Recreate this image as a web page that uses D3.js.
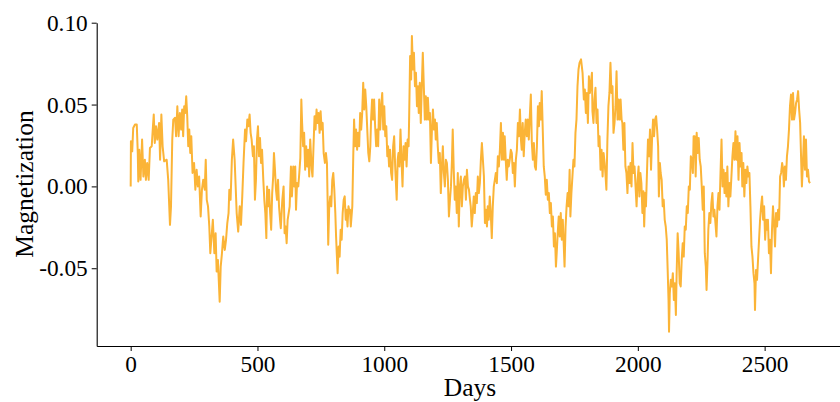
<!DOCTYPE html>
<html>
<head>
<meta charset="utf-8">
<script src="https://cdn.jsdelivr.net/npm/d3@7/dist/d3.min.js"></script>
<style>
  html, body { margin: 0; padding: 0; background: #fff; }
  svg { display: block; }
</style>
</head>
<body>
<svg id="chart" width="840" height="402"></svg>
<script>
// ---- data (day, magnetization) ----
const seg1 = [[0,0],[1,0.0276],[6,0.0214],[10,0.0357],[17,0.0378],[24,0.0378],[28,0.0204],[30,0.003],[34,0.0224],[39,0.004],[45,0.0286],[50,0.006],[56,0.0163],[60,0.004],[65,0.0143],[71,0.004],[76,0.0235],[83,0.0245],[87,0.0347],[91,0.0439],[95,0.0265],[100,0.0367],[105,0.0286],[112,0.0388],[116,0.0163],[121,0.0439],[126,0.0245],[132,0.0153],[142,0.0163],[148,0.004],[155,-0.0235],[159,-0.0122],[164,0.0286],[168,0.0408],[175,0.0419],[179,0.0306],[184,0.049],[189,0.0306],[194,0.0449],[199,0.0347],[203,0.047],[207,0.0306],[211,0.049],[215,0.0449],[219,0.0551],[223,0.0429],[227,0.0245],[231,0.0347],[235,0.0204],[239,0.0306],[244,0.0082],[250,0.0143],[255,-0.002],[260,0.0102],[265,0],[270,0.006],[276,-0.0184],[281,-0.002],[286,0.004],[292,-0.002],[296,0.0163],[300,-0.0082],[305,-0.0122],[310,-0.0245],[314,-0.0408],[319,-0.0306],[324,-0.0204],[330,-0.0408],[335,-0.0286],[339,-0.052],[344,-0.0449],[351,-0.0704],[355,-0.049],[360,-0.0408],[365,-0.0306],[371,-0.0388],[376,-0.0326],[381,-0.0224],[386,-0.0163],[389,-0.002],[394,-0.0082],[399,0.0163],[404,0.0286],[410,0.0163]];
const seg2 = [[418,-0.0163],[424,-0.0276],[430,-0.0122],[435,-0.0235],[440,-0.0061],[445,0.0143],[451,0.0347],[455,0.0276],[460,0.0408],[464,0.0367],[469,0.0439],[473,0.0327],[477,0.0286],[482,0.0184],[486,0.0245],[490,-0.0082],[494,0.004],[498,0.0286],[502,0.0367],[506,0.0184],[510,0.0296],[514,0.0143],[518,0.0224],[523,0.004],[527,-0.0082],[531,-0.0163],[535,-0.0316],[538,0],[542,-0.0122],[546,-0.002],[550,-0.0163],[554,-0.0265],[558,-0.0041],[562,0.006],[565,0.0204],[569,0.0102],[573,-0.002],[577,-0.0082],[581,0.004],[585,-0.0122],[589,-0.0204],[592,-0.0255],[598,-0.0082],[603,0],[607,-0.0286],[611,-0.0245],[615,-0.0347],[619,-0.0204],[623,-0.0163],[627,-0.0122],[632,0.0122],[636,-0.0061],[641,0.0122],[645,0],[649,0.0122],[652,-0.0143],[656,0.002],[661,0],[665,0.0082],[669,0.0173],[673,0.0531],[676,0.0388],[680,0.0245],[684,0.0327],[688,0.0102],[692,0.0245],[696,0.0122],[700,0.0224],[704,0.006],[708,0.0286],[714,0.0102],[717,0.006],[721,0.0245],[725,0.0429],[729,0.0347],[733,0.047],[737,0.0388],[741,0.0449],[745,0.0327],[749,0.0459],[753,0.0347],[757,0.0388],[761,0.0204],[766,0.0143],[770,0.0204],[774,0.0143],[777,-0.0122],[779,-0.0357],[783,-0.0122],[787,-0.0061],[791,-0.0122],[795,0.004],[799,0.0082],[803,-0.002],[807,-0.0163],[810,-0.0306],[816,-0.053],[820,-0.0367],[824,-0.0429],[828,-0.0265],[832,-0.0326],[836,-0.0163],[840,-0.0082],[844,-0.0061],[848,-0.0204],[851,-0.0143],[855,-0.0245],[859,-0.0122],[863,-0.0163]];
const seg3 = [[865,-0.0143],[868,-0.0245],[874,-0.0122],[878,0.0204],[881,0.0408],[885,0.0245],[889,0.0347],[893,0.0224],[897,0.0327],[901,0.0245],[905,0.0449],[909,0.0347],[913,0.0449],[917,0.0633],[921,0.047],[925,0.0592],[929,0.049],[933,0.0347],[937,0.0204],[941,0.0153],[945,0.0245],[948,0.0408],[952,0.0531],[956,0.0408],[960,0.0531],[964,0.0367],[968,0.0245],[972,0.0347],[976,0.0245],[980,0.0531],[984,0.0347],[988,0.049],[992,0.0571],[996,0.0347],[1000,0.049],[1004,0.0306],[1008,0.0367],[1012,0.0184],[1015,0.0245],[1019,0.0122],[1023,0.0224],[1027,0.0082],[1031,0.004],[1035,0.0245],[1039,0.0306],[1043,0.0122],[1049,-0.0082],[1053,0.0163],[1056,0.0204],[1060,0.0122],[1064,0.0347],[1068,0.0163],[1072,0],[1076,0.0245],[1080,0.0163],[1084,0.0265],[1088,0.0122],[1092,0.0286],[1096,0.0245],[1098,0.0408],[1102,0.0796],[1106,0.0653],[1109,0.0918],[1113,0.0714],[1117,0.0816],[1121,0.0612],[1125,0.0694],[1129,0.049],[1133,0.0612],[1136,0.0449],[1140,0.0633],[1144,0.0388],[1148,0.0612],[1152,0.0816],[1156,0.0612],[1160,0.0408],[1164,0.0551],[1168,0.0408],[1172,0.0541],[1176,0.0408],[1180,0.0449],[1184,0.0143],[1188,0.0347],[1192,0.047],[1196,0.0347],[1200,0.0408],[1203,0.0286],[1207,0.0388],[1211,0.0245],[1215,0.0143],[1219,0.0204],[1223,-0.0041],[1227,0.0122],[1231,0.0245],[1235,0.0082],[1239,0],[1243,0.0163],[1247,0.0143],[1251,0.004],[1255,-0.0184],[1259,-0.0082],[1263,0],[1267,0.0163],[1270,0.0347],[1274,0.0102],[1278,-0.0082],[1282,0],[1286,-0.0163],[1290,0.0082],[1294,-0.0245],[1298,0],[1302,0.006],[1306,-0.0122],[1310,0],[1314,0.004]];
const seg4 = [[1318,0.006],[1322,-0.0082],[1326,0.0102],[1330,0],[1334,-0.002],[1338,-0.0082],[1341,-0.0122],[1345,-0.0245],[1349,-0.0163],[1353,-0.0061],[1357,-0.0163],[1361,-0.0041],[1365,-0.0102],[1369,0.006],[1373,-0.0041],[1377,0.002],[1381,0.0163],[1385,0.0265],[1389,0.0163],[1393,0.006],[1397,-0.0224],[1401,-0.0143],[1405,-0.0245],[1408,-0.0122],[1412,-0.0204],[1416,-0.0061],[1420,-0.0163],[1424,-0.0316],[1428,-0.0122],[1432,0],[1436,0.004],[1440,0.0082],[1444,0.002],[1448,0.0184],[1452,0.0122],[1456,0.0224],[1460,0.0388],[1464,0.0163],[1468,0.0327],[1472,0.0163],[1475,0.0306],[1479,0.0163],[1483,0.004],[1487,0.0163],[1491,0.0122],[1495,0.0163],[1499,0.0224],[1503,0.0204],[1507,0.0082],[1511,0.0143],[1515,0],[1519,0.0163],[1523,0.0224],[1527,0.0388],[1531,0.0306],[1535,0.047],[1539,0.0286],[1542,0.0224],[1546,0.0388],[1550,0.0184],[1554,0.0327],[1558,0.0408],[1562,0.0306],[1566,0.0408],[1570,0.0286],[1574,0.0429],[1578,0.0561],[1582,0.0265],[1586,0.0163],[1590,0.0265],[1594,0.0122],[1598,0.0102],[1602,0.0245],[1606,0.049],[1610,0.0367],[1613,0.051],[1617,0.0408],[1621,0.0582],[1625,0.0347],[1629,0.0122],[1633,0.006],[1637,-0.0051],[1641,0.004],[1645,-0.0082],[1649,-0.0041],[1653,-0.0163],[1657,-0.0102],[1661,-0.0245],[1665,-0.0184],[1669,-0.0367],[1673,-0.0286],[1677,-0.049],[1680,-0.0408],[1684,-0.0286],[1688,-0.0184],[1692,-0.0306],[1696,-0.0163],[1700,-0.0326],[1704,-0.0204],[1708,-0.0367],[1711,-0.049],[1715,-0.0245],[1719,-0.0122],[1723,-0.0041],[1727,-0.0122],[1731,0.0102],[1734,-0.0184],[1738,-0.0041],[1742,0.006],[1746,0.0163],[1750,0.0122],[1754,0.0327],[1758,0.0408],[1762,0.0612],[1766,0.0714],[1770,0.0755]];
const seg5 = [[1776,0.0776],[1782,0.0694],[1787,0.0531],[1791,0.0592],[1795,0.0449],[1799,0.0571],[1803,0.0388],[1807,0.0673],[1811,0.0571],[1815,0.0633],[1819,0.0694],[1821,0.0459],[1825,0.0388],[1829,0.0531],[1833,0.0602],[1837,0.0388],[1841,0.047],[1845,0.0245],[1849,0.0306],[1853,0.0102],[1857,0.0224],[1861,0.006],[1865,0.0204],[1869,0.0143],[1872,0.0082],[1876,-0.002],[1880,0.0286],[1884,0.049],[1888,0.0571],[1892,0.0755],[1896,0.0571],[1900,0.0612],[1904,0.0327],[1908,0.0388],[1912,0.049],[1916,0.0704],[1920,0.0408],[1924,0.0531],[1928,0.0408],[1932,0.0531],[1936,0.0408],[1939,0.0388],[1943,0.0224],[1947,0.0388],[1951,0.0122],[1955,0.0082],[1959,-0.0041],[1963,0.0122],[1967,0.002],[1971,0.0143],[1975,0],[1979,0.0265],[1983,0.0082],[1987,0.0122],[1991,0],[1995,-0.0122],[1999,0.004],[2003,0.0122],[2006,-0.0061],[2010,0.0082],[2014,0.002],[2018,-0.0163],[2022,-0.003],[2025,-0.0245],[2029,-0.0041],[2032,-0.0122],[2036,0.0082],[2040,0.0286],[2044,0.0184],[2048,0.0347],[2052,0.0102],[2056,0.0286],[2060,0.0408],[2064,0.0306],[2068,0.0408],[2072,0.0429],[2076,0.0347],[2080,0.0245],[2083,-0.0061],[2087,0.0143],[2090,0.0082],[2094,0.004],[2098,-0.0122],[2102,-0.0082],[2106,-0.0204],[2110,-0.0245],[2114,-0.0326],[2118,-0.053],[2121,-0.0694],[2123,-0.0888],[2126,-0.0653],[2130,-0.0571],[2134,-0.0612],[2138,-0.053],[2142,-0.0694],[2146,-0.0592],[2150,-0.0786],[2153,-0.053],[2157,-0.0286],[2161,-0.0408],[2165,-0.0592],[2169,-0.0612],[2173,-0.0449],[2177,-0.0347],[2181,-0.0429],[2185,-0.0245],[2189,-0.0265],[2193,-0.0122],[2197,-0.0163],[2201,0],[2205,-0.002],[2209,0.0184],[2213,0.0163],[2217,0.0082],[2220,0.0306]];
const seg6 = [[2224,0.0306],[2228,0.006],[2232,0.0327],[2236,0.0204],[2240,0.0296],[2244,0.0163],[2248,0.0122],[2252,0],[2256,-0.0143],[2260,0],[2264,-0.0408],[2268,-0.049],[2271,-0.0633],[2275,-0.0449],[2278,-0.0265],[2282,-0.0163],[2286,-0.0224],[2290,-0.0102],[2294,-0.0041],[2298,-0.0184],[2302,-0.0143],[2306,-0.0224],[2310,-0.0306],[2314,-0.0122],[2318,-0.0041],[2322,-0.0143],[2326,0.0082],[2330,0.0286],[2334,0],[2338,0.0102],[2342,-0.0041],[2346,0.0082],[2349,-0.0061],[2353,0.0122],[2357,-0.0122],[2361,0.002],[2365,-0.0061],[2369,0.006],[2373,0.0184],[2377,0.0265],[2381,0.0163],[2385,0.0337],[2389,0.0163],[2393,0.0306],[2397,0.004],[2401,0.0265],[2405,0.0122],[2409,0.0204],[2412,0],[2416,0.0143],[2420,-0.0061],[2424,0.0102],[2428,0.002],[2432,0.0122],[2436,0.006],[2440,0.0082],[2444,-0.0122],[2448,-0.0367],[2452,-0.0429],[2456,-0.053],[2460,-0.0592],[2462,-0.0755],[2466,-0.051],[2470,-0.0571],[2474,-0.0449],[2478,-0.0326],[2482,-0.0204],[2486,-0.0122],[2490,-0.0061],[2494,-0.0204],[2498,-0.0122],[2502,-0.0326],[2506,-0.0204],[2509,-0.0265],[2513,-0.0204],[2517,-0.0408],[2521,-0.0326],[2525,-0.053],[2529,-0.0265],[2533,-0.0122],[2537,-0.0224],[2541,-0.0367],[2545,-0.0163],[2549,-0.0245],[2553,-0.0143],[2557,-0.0204],[2561,0.006],[2565,0.0082],[2569,0.0143],[2573,0.0102],[2576,0],[2580,0.0122],[2584,0.004],[2588,0.0184],[2592,0.0245],[2596,0.0347],[2600,0.049],[2604,0.0561],[2608,0.0408],[2612,0.0571],[2616,0.0408],[2620,0.0449],[2624,0.051],[2628,0.0531],[2632,0.0582],[2636,0.047],[2640,0.0388],[2644,0.0163],[2647,0],[2651,0.0143],[2655,0.0306],[2659,0.0102],[2663,0.0286],[2667,0.006],[2671,0.0102],[2675,0.003],[2679,0.002]];

const xTicks = [0, 500, 1000, 1500, 2000, 2500];
const yTicks = [-0.05, 0.00, 0.05, 0.10];
const yTickLabels = ["-0.05", "0.00", "0.05", "0.10"];
const xLabel = "Days";
const yLabel = "Magnetization";

// ---- drawing ----
const series = [].concat(seg1, seg2, seg3, seg4, seg5, seg6);
const svg = d3.select("#chart");
const FONT = "'Liberation Serif', 'Times New Roman', Times, serif";

const x = d3.scaleLinear().domain([-134, 2813]).range([96.7, 844]);
const y = d3.scaleLinear().domain([-0.0975, 0.10]).range([346, 22.7]);

const line = d3.line().x(d => x(d[0])).y(d => y(d[1]));
svg.append("path")
  .datum(series)
  .attr("d", line)
  .attr("fill", "none")
  .attr("stroke", "#FBB437")
  .attr("stroke-width", 2)
  .attr("stroke-linejoin", "round");

const gx = svg.append("g")
  .attr("transform", "translate(0,346)")
  .call(d3.axisBottom(x).tickValues(xTicks).tickFormat(d3.format("d"))
    .tickSize(5).tickSizeOuter(0).tickPadding(4));
const gy = svg.append("g")
  .attr("transform", "translate(96.7,0)")
  .call(d3.axisLeft(y).tickValues(yTicks).tickFormat((d, i) => yTickLabels[i])
    .tickSize(5).tickSizeOuter(0).tickPadding(4));

[gx, gy].forEach(g => {
  g.attr("font-family", FONT).attr("font-size", 23.3);
  g.selectAll("text").attr("fill", "#000");
  g.selectAll("line").attr("stroke", "#000").attr("stroke-width", 1);
  g.select(".domain").attr("stroke", "#000").attr("stroke-width", 1.1);
});

svg.append("text")
  .attr("x", 470).attr("y", 396)
  .attr("text-anchor", "middle")
  .attr("font-family", FONT).attr("font-size", 25.5)
  .text(xLabel);

svg.append("text")
  .attr("transform", "translate(33,184) rotate(-90)")
  .attr("text-anchor", "middle")
  .attr("font-family", FONT).attr("font-size", 25.5)
  .text(yLabel);
</script>
</body>
</html>
